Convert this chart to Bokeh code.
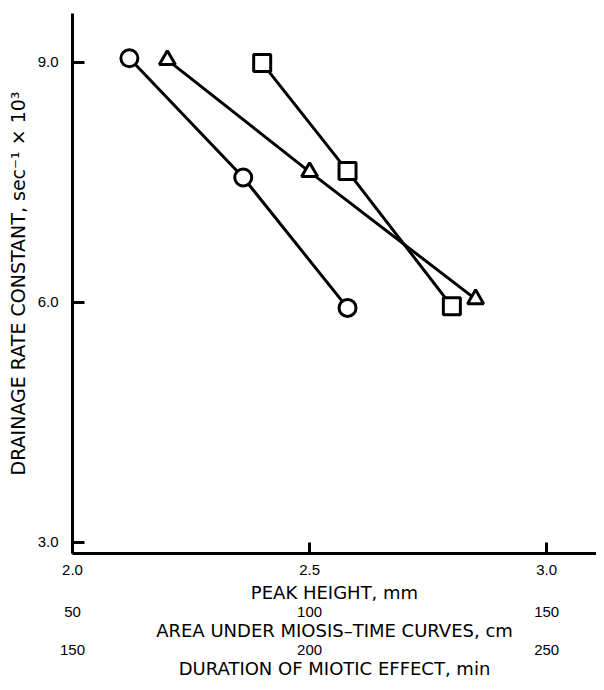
from bokeh.plotting import figure
from bokeh.models import LinearAxis, Range1d, FixedTicker, PrintfTickFormatter
from bokeh.embed import file_html
from bokeh.resources import INLINE

# Data (peak height in mm on x, drainage rate constant sec^-1 x 10^3 on y)
circle_peak = [2.12, 2.36, 2.58]
circle_rate = [9.05, 7.56, 5.93]
triangle_peak = [2.20, 2.50, 2.85]
triangle_rate = [9.03, 7.63, 6.04]
square_peak = [2.40, 2.58, 2.80]
square_rate = [8.99, 7.64, 5.95]

peak_ticks = [2.0, 2.5, 3.0]
area_ticks = [50, 100, 150]
duration_ticks = [150, 200, 250]
rate_ticks = [3.0, 6.0, 9.0]

X0, X1 = 2.0, 3.105
Y0, Y1 = 2.86, 9.61

p = figure(width=596, height=682, x_range=Range1d(X0, X1), y_range=Range1d(Y0, Y1),
           output_backend="svg", toolbar_location=None,
           min_border_left=72, min_border_right=0, min_border_top=13, min_border_bottom=129)
p.outline_line_color = None
p.grid.visible = False
p.background_fill_color = "white"
p.border_fill_color = "white"

LABEL_FONT = "DejaVu Sans"
TICK_FONT = "Liberation Sans"

def style_axis(ax, line=True):
    ax.major_label_text_font = TICK_FONT
    ax.major_label_text_font_size = "15px"
    ax.major_label_text_color = "black"
    ax.axis_label_text_font = LABEL_FONT
    ax.axis_label_text_font_size = "18px"
    ax.axis_label_text_font_style = "normal"
    ax.axis_label_text_color = "black"
    ax.minor_tick_line_color = None
    ax.major_tick_out = 0
    if line:
        ax.axis_line_width = 3
        ax.axis_line_color = "black"
        ax.major_tick_line_width = 3
        ax.major_tick_line_color = "black"
    else:
        ax.axis_line_color = None
        ax.major_tick_line_color = None
        ax.major_tick_in = 0

# main x axis
xa = p.xaxis[0]
style_axis(xa)
xa.ticker = FixedTicker(ticks=peak_ticks)
xa.formatter = PrintfTickFormatter(format="%.1f")
xa.major_tick_in = 11
xa.major_label_standoff = 11
xa.axis_label = "PEAK HEIGHT, mm"
xa.axis_label_standoff = 4

# y axis
ya = p.yaxis[0]
style_axis(ya)
ya.axis_label_text_font_size = "19px"
ya.ticker = FixedTicker(ticks=rate_ticks)
ya.formatter = PrintfTickFormatter(format="%.1f")
ya.major_tick_in = 12
ya.major_label_standoff = 14
ya.axis_label = "DRAINAGE RATE CONSTANT, sec\u207b\u00b9 \u00d7 10\u00b3"
ya.axis_label_standoff = 6

p.extra_x_ranges = {
    "area": Range1d(area_ticks[0] + (X0 - peak_ticks[0]) * 100, area_ticks[0] + (X1 - peak_ticks[0]) * 100),
    "duration": Range1d(duration_ticks[0] + (X0 - peak_ticks[0]) * 100, duration_ticks[0] + (X1 - peak_ticks[0]) * 100),
}

ax2 = LinearAxis(x_range_name="area")
style_axis(ax2, line=False)
ax2.ticker = FixedTicker(ticks=area_ticks)
ax2.major_label_standoff = 1
ax2.axis_label = "AREA UNDER MIOSIS\u2013TIME CURVES, cm"
ax2.axis_label_standoff = 0
p.add_layout(ax2, "below")

ax3 = LinearAxis(x_range_name="duration")
style_axis(ax3, line=False)
ax3.ticker = FixedTicker(ticks=duration_ticks)
ax3.major_label_standoff = 1
ax3.axis_label = "DURATION OF MIOTIC EFFECT, min"
ax3.axis_label_standoff = 0
p.add_layout(ax3, "below")

# series
p.line(circle_peak, circle_rate, line_color="black", line_width=3)
p.scatter(circle_peak, circle_rate, marker="circle", size=17, line_color="black",
          line_width=3, fill_color="white")
p.line(triangle_peak, triangle_rate, line_color="black", line_width=3)
p.scatter(triangle_peak, triangle_rate, marker="triangle", size=16, line_color="black",
          line_width=3, fill_color="white")
p.line(square_peak, square_rate, line_color="black", line_width=3)
p.scatter(square_peak, square_rate, marker="square", size=17, line_color="black",
          line_width=3, fill_color="white")

open("out.html", "w").write(file_html(p, INLINE))
